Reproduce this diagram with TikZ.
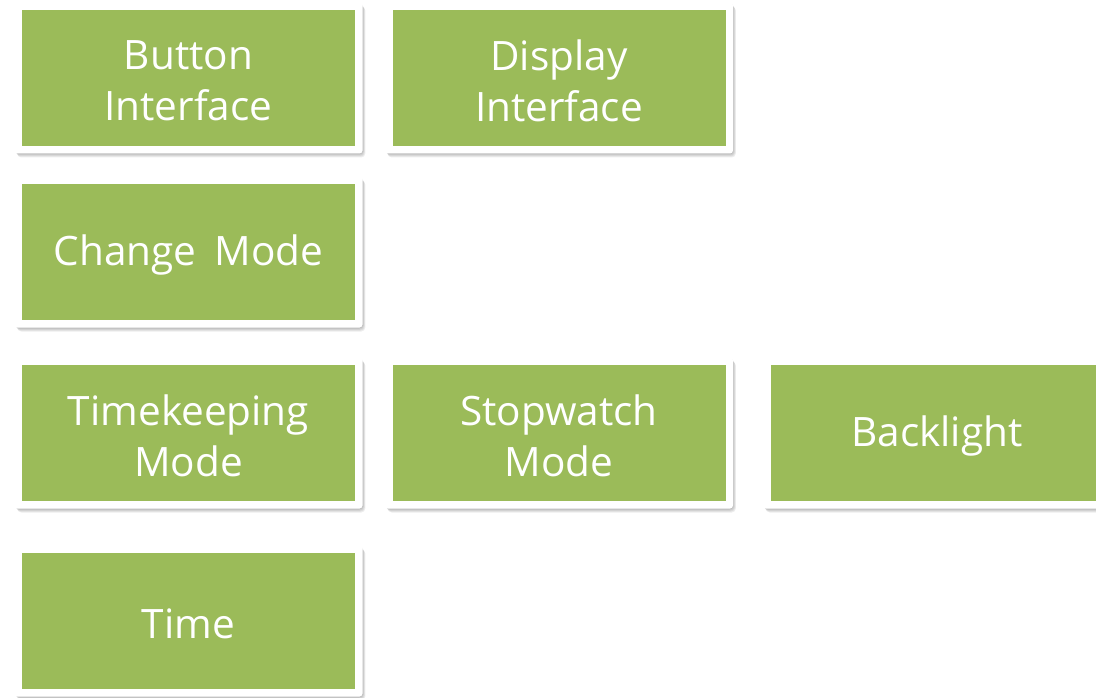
\documentclass[tikz,border=0pt]{standalone}
\usepackage{fontspec}
\setmainfont{Open Sans}
\definecolor{boxgreen}{HTML}{9BBB59}
\begin{document}
\begin{tikzpicture}[x=1pt,y=-1pt,
  greenbox/.style={fill=boxgreen, minimum width=333pt, minimum height=136pt, inner sep=0pt},
  boxtext/.style={text=white, inner sep=0pt, align=center, font=\fontsize{40.5}{51}\selectfont},
  frame/.style={fill=white, rounded corners=3pt},
  shade/.style={fill=black, opacity=0.07, rounded corners=4pt}]
\useasboundingbox (0,0) rectangle (1096,698);
\newcommand\mybox[4]{%
  \foreach \s in {1,2,3,4}{
    \fill[shade] ({#2-166.5-7.5+\s*0.7},{#3-68-7.5+\s*1.0}) rectangle ({#2+166.5+7.5+\s*0.7},{#3+68+7.5+\s*1.0});
  }
  \fill[frame] ({#2-166.5-7.5},{#3-68-7.5}) rectangle ({#2+166.5+7.5},{#3+68+7.5});
  \node[greenbox] (#1) at (#2,#3) {};
  \node[boxtext] (#1-text) at ([yshift=-3pt]#1.center) {#4};
}
\mybox{button}{188.5}{78}{Button\\Interface}
\mybox{display}{559}{78}{Display\\Interface}
\mybox{change}{188.5}{252}{Change\hspace{0.45em}Mode}
\mybox{timekeeping}{188.5}{433}{Timekeeping\\Mode}
\mybox{stopwatch}{559}{433}{Stopwatch\\Mode}
\mybox{backlight}{937}{433}{Backlight}
\mybox{time}{188.5}{621}{Time}
\end{tikzpicture}
\end{document}
